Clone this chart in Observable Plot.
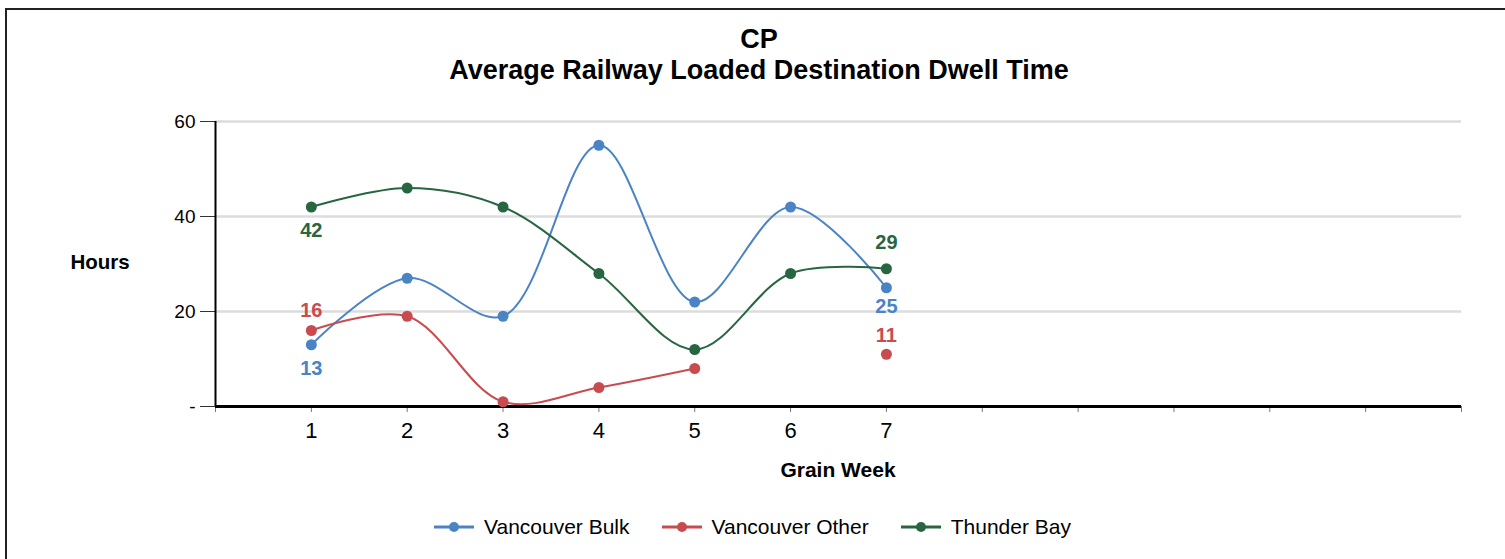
<!DOCTYPE html>
<html><head><meta charset="utf-8">
<script src="https://cdn.jsdelivr.net/npm/d3@7"></script>
<script src="https://cdn.jsdelivr.net/npm/@observablehq/plot@0.6"></script>
<style>
html,body{margin:0;padding:0;width:1505px;height:559px;overflow:hidden;background:#fff;font-family:"Liberation Sans",Arial,sans-serif;}
#wrap{position:relative;width:1505px;height:559px;}
#frame{position:absolute;left:5px;top:8px;width:1700px;height:800px;border:2px solid #222;box-sizing:border-box;}
#chart{position:absolute;left:0;top:0;}
.t{position:absolute;font-weight:bold;color:#000;white-space:nowrap;transform:translateX(-50%);line-height:1;}
#legend{position:absolute;top:516px;left:0;width:1505px;display:flex;justify-content:center;gap:0;font-size:21px;line-height:21px;color:#000;}
.li{display:flex;align-items:center;margin:0 16px;}
.li svg{margin-right:10px;}
</style></head><body>
<div id="wrap">
  <div id="frame"></div>
  <div id="chart"></div>
  <div class="t" style="left:759px;top:26px;font-size:27px;">CP</div>
  <div class="t" style="left:759px;top:57px;font-size:27px;">Average Railway Loaded Destination Dwell Time</div>
  <div class="t" style="left:100px;top:252px;font-size:20.5px;">Hours</div>
  <div class="t" style="left:838px;top:459px;font-size:21px;">Grain Week</div>
  <div id="legend"></div>
</div>
<script>
const weeks = [1, 2, 3, 4, 5, 6, 7];
const seriesNames = ["Vancouver Bulk", "Vancouver Other", "Thunder Bay"];
const vancouverBulk = [13, 27, 19, 55, 22, 42, 25];
const vancouverOther = [16, 19, 1, 4, 8, null, 11];
const thunderBay = [42, 46, 42, 28, 12, 28, 29];
const xTicks = [0, 1, 2, 3, 4, 5, 6, 7, 8, 9, 10, 11, 12, 13];
const yTicks = [0, 20, 40, 60];
const colors = ["#4a84c4", "#c84b4f", "#276640"];

const seriesValues = [vancouverBulk, vancouverOther, thunderBay];
const data = [];
seriesNames.forEach((s, i) => weeks.forEach((w, j) => data.push({series: s, week: w, value: seriesValues[i][j]})));
const defined = data.filter(d => d.value != null);
const labels = defined.filter(d => d.week === weeks[0] || d.week === weeks[weeks.length - 1]);
// label offsets (pixels) to avoid collisions, as in the original
const labelOffset = {
  "Vancouver Bulk|1": 24, "Vancouver Other|1": -20, "Thunder Bay|1": 24,
  "Vancouver Bulk|7": 19, "Vancouver Other|7": -19, "Thunder Bay|7": -26
};

const plot = Plot.plot({
  width: 1505,
  height: 559,
  marginLeft: 215,
  marginRight: 44,
  marginTop: 121,
  marginBottom: 153,
  style: {fontFamily: '"Liberation Sans", Arial, sans-serif', background: "transparent", overflow: "visible"},
  x: {domain: [0, 13]},
  y: {domain: [0, 60]},
  color: {domain: seriesNames, range: colors},
  marks: [
    Plot.ruleY(yTicks.filter(d => d > 0), {stroke: "#dcdcdc", strokeWidth: 2.5}),
    Plot.axisY({ticks: yTicks, tickFormat: d => d === 0 ? "-" : d, tickSize: 15, tickPadding: 5, fontSize: 19, label: null, stroke: "#333", fill: "#000"}),
    Plot.axisX({ticks: xTicks, tickFormat: d => weeks.includes(d) ? d : "", tickSize: 6, tickPadding: 10, fontSize: 22, label: null, stroke: "#777", fill: "#000"}),
    Plot.ruleX([0], {stroke: "#000", strokeWidth: 2}),
    Plot.ruleY([0], {stroke: "#000", strokeWidth: 3}),
    Plot.line(data, {x: "week", y: "value", z: "series", stroke: "series", curve: "catmull-rom", strokeWidth: 2}),
    Plot.dot(defined, {x: "week", y: "value", fill: "series", r: 5.5}),
    ...labels.map(d => Plot.text([d], {x: "week", y: "value", text: "value", fill: "series", dy: labelOffset[d.series + "|" + d.week], fontSize: 20, fontWeight: "bold"}))
  ]
});
document.getElementById("chart").appendChild(plot);

const legend = document.getElementById("legend");
seriesNames.forEach((s, i) => {
  const item = document.createElement("div");
  item.className = "li";
  item.innerHTML = `<svg width="40" height="12"><line x1="0" x2="40" y1="6" y2="6" stroke="${colors[i]}" stroke-width="3"/><circle cx="20" cy="6" r="5" fill="${colors[i]}"/></svg><span>${s}</span>`;
  legend.appendChild(item);
});
</script>
</body></html>
